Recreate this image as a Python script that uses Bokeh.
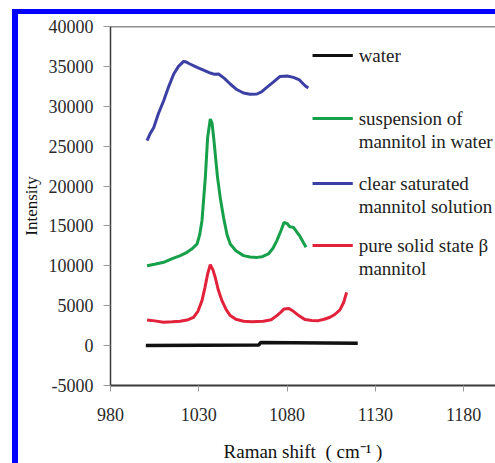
from bokeh.plotting import figure
from bokeh.models import FixedTicker, Span, PrintfTickFormatter
from bokeh.core.properties import value
from bokeh.embed import file_html
from bokeh.resources import INLINE

# Raman spectra (shift in cm^-1, intensity in counts)
water_x = [1000, 1064, 1065, 1120]
water_y = [0, 80, 380, 300]

solid_x = [1000.7, 1005, 1010.1, 1015, 1019.5, 1024, 1027, 1029.5, 1031.8, 1033.5, 1035, 1036.5,
           1038, 1039.3, 1041, 1043.1, 1045.5, 1047.8, 1051, 1055.3, 1060, 1066.6, 1071, 1074.2,
           1076.5, 1078.3, 1081, 1083.6, 1087, 1090.2, 1094, 1097.7, 1101, 1104.3, 1107, 1109.9,
           1112, 1113.7]
solid_y = [3220, 3100, 2920, 2980, 3050, 3250, 3550, 4300, 5640, 7300, 8980, 10150,
           9500, 8560, 7000, 5640, 4500, 3760, 3300, 3050, 3000, 3050, 3250, 3760,
           4200, 4600, 4650, 4300, 3700, 3260, 3150, 3130, 3300, 3550, 3900, 4470,
           5400, 6680]

susp_x = [1000.7, 1005, 1010.1, 1015, 1019.5, 1023.3, 1026, 1029, 1030.5, 1031.8, 1033.7, 1035,
          1036.5, 1037.5, 1038.4, 1040.6, 1042.3, 1044, 1046, 1047.8, 1051, 1055.3, 1059, 1062.9,
          1066, 1069.4, 1072, 1074.2, 1076.5, 1078.3, 1080, 1081.5, 1083.6, 1087, 1090.7]
susp_y = [10020, 10200, 10440, 10900, 11280, 11690, 12100, 12740, 13900, 15660, 21090, 26100,
          28400, 27900, 26100, 21090, 18300, 16080, 13900, 12740, 11900, 11280, 11100, 11060,
          11150, 11490, 12200, 13160, 14400, 15450, 15300, 14900, 14820, 13800, 12320]

clear_x = [1000.7, 1002.5, 1004.5, 1007, 1010.1, 1013, 1015.8, 1018.5, 1021.4, 1022.4, 1025, 1029,
           1033, 1036.5, 1039, 1041.2, 1044.5, 1047.8, 1051.5, 1055.3, 1059, 1062.9, 1065.5, 1068.5,
           1072, 1076, 1080, 1083.6, 1087, 1090.2, 1092]
clear_y = [25700, 26600, 27350, 29000, 30700, 32500, 34040, 35000, 35620, 35590, 35300, 34870,
           34500, 34170, 34000, 34040, 33500, 32790, 32100, 31660, 31500, 31540, 31800, 32370,
           33000, 33740, 33800, 33620, 33300, 32580, 32300]

x_ticks = [980, 1030, 1080, 1130, 1180]
y_ticks = [-5000, 0, 5000, 10000, 15000, 20000, 25000, 30000, 35000, 40000]

series = [
    ("water", water_x, water_y, "#111111", 3.5),
    ("suspension of\nmannitol in water", susp_x, susp_y, "#17a04a", 3),
    ("clear saturated\nmannitol solution", clear_x, clear_y, "#3c3fa3", 3),
    ("pure solid state \u03b2\nmannitol", solid_x, solid_y, "#e2213b", 3),
]

FONT = "Liberation Serif"

p = figure(frame_width=385, frame_height=359,
           x_range=(980, 1198), y_range=(-5000, 40000),
           min_border_left=92, min_border_right=0, min_border_top=12, min_border_bottom=78,
           output_backend="svg", toolbar_location=None)
p.styles = {"margin-left": "12px", "margin-top": "9px",
            "border-left": "6px solid #0000ff", "border-top": "5px solid #0000ff"}
p.background_fill_color = "white"
p.border_fill_color = "white"
p.outline_line_color = None
p.grid.visible = False

p.xaxis.ticker = FixedTicker(ticks=x_ticks)
p.yaxis.ticker = FixedTicker(ticks=y_ticks)
p.xaxis.formatter = PrintfTickFormatter(format="%d")
p.yaxis.formatter = PrintfTickFormatter(format="%d")
p.xaxis.minor_tick_line_color = None
p.yaxis.minor_tick_line_color = None

for ax in (p.xaxis[0], p.yaxis[0]):
    ax.major_label_text_font = FONT
    ax.major_label_text_font_size = "18px"
    ax.major_label_text_color = "#2a2a2a"
    ax.axis_label_text_font = FONT
    ax.axis_label_text_font_style = "normal"
    ax.axis_label_text_color = "#111111"
    ax.axis_line_color = "#3a3a3a"
    ax.major_tick_line_color = "#999999"
    ax.major_tick_in = 0

p.xaxis.axis_line_width = 2
p.yaxis.axis_line_width = 1.5
p.xaxis.major_tick_out = 6
p.yaxis.major_tick_out = 7
p.xaxis.major_label_standoff = 16
p.yaxis.major_label_standoff = 10

p.xaxis.axis_label = "Raman shift\u2002( cm\u207b\u00b9 )"
p.xaxis.axis_label_text_font_size = "19px"
p.xaxis.axis_label_standoff = 17
p.yaxis.axis_label = "Intensity"
p.yaxis.axis_label_text_font_size = "17px"
p.yaxis.axis_label_standoff = 5

# box top edge
p.add_layout(Span(location=40000, dimension="width", line_color="#222222", line_width=1.5))

for name, xs, ys, color, lw in series:
    p.line(xs, ys, line_color=color, line_width=lw)

# hand-laid legend: key line on the first text line, wrapped labels below
key_x0, key_x1, text_x = 1094.4, 1117.2, 1120.5
row_top = [36365, 28468, 20320, 12548]
line_gap = 2850
for (name, xs, ys, color, lw), y0 in zip(series, row_top):
    p.line([key_x0, key_x1], [y0, y0], line_color=color, line_width=3)
    for i, txt in enumerate(name.split("\n")):
        p.text(x=[text_x], y=[y0 - i * line_gap], text=[txt],
               text_font=value("'Liberation Serif', 'Times New Roman', serif"),
               text_font_size="19px",
               text_color="#222222", text_baseline="middle", text_align="left")

open("out.html", "w").write(file_html(p, INLINE))
